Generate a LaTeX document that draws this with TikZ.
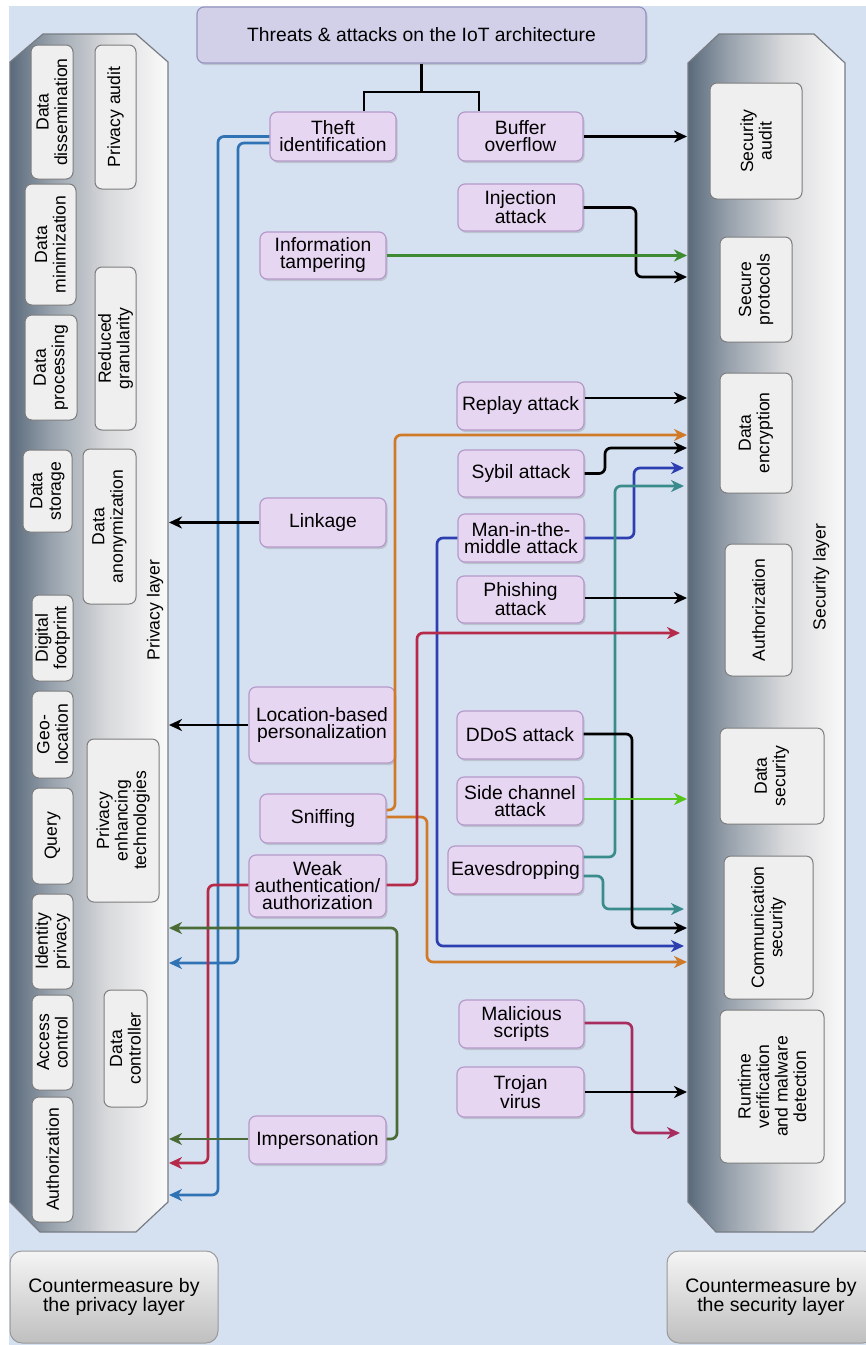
\documentclass[tikz,border=0pt]{standalone}
\usepackage{fontspec}
\setmainfont{Liberation Sans}
\usetikzlibrary{arrows.meta,shadows,calc}

\definecolor{bgblue}{RGB}{213,225,241}
\definecolor{titlefill}{RGB}{210,208,233}
\definecolor{titleborder}{RGB}{150,148,190}
\definecolor{atkfill}{RGB}{231,214,241}
\definecolor{atkborder}{RGB}{181,154,201}
\definecolor{boxgray}{RGB}{239,239,239}
\definecolor{boxborder}{RGB}{125,125,125}
\definecolor{panelborder}{RGB}{120,124,130}
\definecolor{pdark}{RGB}{90,106,123}
\definecolor{pmid}{RGB}{152,162,173}
\definecolor{plight}{RGB}{217,218,220}
\definecolor{pwhite}{RGB}{250,250,250}
\definecolor{ctheft}{RGB}{47,115,181}
\definecolor{corange}{RGB}{208,122,40}
\definecolor{cred}{RGB}{181,42,72}
\definecolor{cblue}{RGB}{45,63,176}
\definecolor{cteal}{RGB}{58,140,140}
\definecolor{cgreen}{RGB}{62,138,48}
\definecolor{cgreen2}{RGB}{82,196,26}
\definecolor{cdgreen}{RGB}{74,107,53}
\definecolor{cmag}{RGB}{168,45,95}

\pgfdeclarehorizontalshading{panelshade}{100bp}{color(0bp)=(pdark); color(25bp)=(pdark); color(38bp)=(pmid); color(56bp)=(plight); color(75bp)=(pwhite); color(100bp)=(pwhite)}

\begin{document}
\begin{tikzpicture}[x=1pt,y=1pt,
  atk/.style={draw=atkborder, fill=atkfill, line width=1.2pt, rounded corners=7pt,
    align=center, inner sep=0pt, font=\fontsize{19.3}{17}\selectfont,
    drop shadow={shadow xshift=1.5pt, shadow yshift=-2pt, opacity=0.3}},
  inbox/.style={draw=boxborder, fill=boxgray, line width=1pt, rounded corners=7pt,
    rotate=90, align=center, inner sep=0pt, font=\fontsize{17.6}{18.5}\selectfont},
  lbl/.style={rotate=90, inner sep=0pt, font=\fontsize{17.6}{18.5}\selectfont},
  cmbox/.style={draw=gray!80, top color=gray!8, bottom color=gray!50, line width=1pt,
    rounded corners=12pt, align=center, inner sep=0pt,
    font=\fontsize{19.5}{17}\selectfont},
  arr/.style={line width=2.7pt, rounded corners=6pt,
    -{Stealth[length=13pt,width=12pt,inset=4pt]}},
  tree/.style={line width=2.7pt}
]
\useasboundingbox (0,0) rectangle (866,-1345);
\fill[white] (0,0) rectangle (866,-1345);
\fill[bgblue] (9,-6) rectangle (866,-1345);

% ---------- layer panels ----------
\path[shade, shading=panelshade, draw=panelborder, line width=1.2pt]
  (43,-34) -- (136,-34) -- (168,-62) -- (168,-1202) -- (136,-1232)
  -- (40,-1232) -- (10,-1202) -- (10,-62) -- cycle;
\path[shade, shading=panelshade, draw=panelborder, line width=1.2pt]
  (719,-34) -- (814,-34) -- (845,-63) -- (845,-1202) -- (813,-1232)
  -- (716,-1232) -- (688,-1202) -- (688,-63) -- cycle;
\coordinate (prvR) at (169,0);
\coordinate (secL) at (687,0);

\node[lbl] (privlabel) at (155,-610) {Privacy layer};
\node[lbl] (seclabel) at (821,-577) {Security layer};

% privacy countermeasures
\node[inbox, minimum width=134, minimum height=42] (dissem) at (52,-112) {Data\\dissemination};
\node[inbox, minimum width=121, minimum height=51] (minim) at (50.5,-244.5) {Data\\minimization};
\node[inbox, minimum width=105, minimum height=52] (proc) at (51,-367.5) {Data\\processing};
\node[inbox, minimum width=82, minimum height=49] (stor) at (47.5,-491) {Data\\storage};
\node[inbox, minimum width=86, minimum height=41] (foot) at (52.5,-638) {Digital\\footprint};
\node[inbox, minimum width=87, minimum height=41] (geo) at (52.5,-734.5) {Geo-\\location};
\node[inbox, minimum width=96, minimum height=41] (query) at (52.5,-836) {Query};
\node[inbox, minimum width=95, minimum height=41] (ident) at (52.5,-941.5) {Identity\\privacy};
\node[inbox, minimum width=95, minimum height=41] (access) at (52.5,-1042.5) {Access\\control};
\node[inbox, minimum width=125, minimum height=41] (pauth) at (52.5,-1159.5) {Authorization};
\node[inbox, minimum width=144, minimum height=41] (paudit) at (115.5,-117) {Privacy audit};
\node[inbox, minimum width=163, minimum height=41] (gran) at (115.5,-348.5) {Reduced\\granularity};
\node[inbox, minimum width=155, minimum height=53] (anon) at (109.5,-526.5) {Data\\anonymization};
\node[inbox, minimum width=163, minimum height=72] (pet) at (123,-820.5) {Privacy\\enhancing\\technologies};
\node[inbox, minimum width=117, minimum height=43] (ctrl) at (125.5,-1048.5) {Data\\controller};

% security countermeasures
\node[inbox, minimum width=116, minimum height=92] (saudit) at (756,-141) {Security\\audit};
\node[inbox, minimum width=105, minimum height=72] (sproto) at (756,-289.5) {Secure\\protocols};
\node[inbox, minimum width=120, minimum height=72] (senc) at (756,-433) {Data\\encryption};
\node[inbox, minimum width=132, minimum height=67] (sauth) at (758.5,-610) {Authorization};
\node[inbox, minimum width=96, minimum height=104] (sdata) at (772,-776) {Data\\security};
\node[inbox, minimum width=143, minimum height=89] (scomm) at (768.5,-927.5) {Communication\\security};
\node[inbox, minimum width=153, minimum height=104] (srun) at (772,-1086.5) {Runtime\\verification\\and malware\\detection};

% ---------- threats ----------
\node[atk, fill=titlefill, draw=titleborder, minimum width=449, minimum height=56] (title) at (421.5,-35) {Threats \& attacks on the IoT architecture};

\node[atk, minimum width=126, minimum height=49] (theft) at (333,-136.5) {Theft\\identification};
\node[atk, minimum width=125, minimum height=49] (buffer) at (520.5,-136.5) {Buffer\\overflow};
\node[atk, minimum width=125, minimum height=47] (inj) at (520.5,-207.5) {Injection\\attack};
\node[atk, minimum width=126, minimum height=47] (tamper) at (323,-255.5) {Information\\tampering};
\node[atk, minimum width=127, minimum height=48] (replay) at (520.5,-406) {Replay attack};
\node[atk, minimum width=126, minimum height=47] (sybil) at (521,-473.5) {Sybil attack};
\node[atk, minimum width=126, minimum height=48] (mitm) at (521,-538) {Man-in-the-\\middle attack};
\node[atk, minimum width=127, minimum height=47] (phish) at (520.5,-599.5) {Phishing\\attack};
\node[atk, minimum width=126, minimum height=49] (linkage) at (323,-522.5) {Linkage};
\node[atk, minimum width=146, minimum height=76] (loc) at (322,-725) {Location-based\\personalization};
\node[atk, minimum width=126, minimum height=49] (sniff) at (323,-818.5) {Sniffing};
\node[atk, minimum width=137, minimum height=62] (weak) at (317.5,-886) {Weak\\authentication/\\authorization};
\node[atk, minimum width=137, minimum height=48] (imp) at (317.5,-1140) {Impersonation};
\node[atk, minimum width=126, minimum height=48] (ddos) at (520,-735) {DDoS attack};
\node[atk, minimum width=126, minimum height=48] (side) at (520,-801) {Side channel\\attack};
\node[atk, minimum width=135, minimum height=48] (eaves) at (515.5,-870) {Eavesdropping};
\node[atk, minimum width=125, minimum height=48] (mal) at (521.5,-1024) {Malicious\\scripts};
\node[atk, minimum width=127, minimum height=50] (trojan) at (520.5,-1092) {Trojan\\virus};

% ---------- countermeasure captions ----------
\node[cmbox, minimum width=208, minimum height=92] (cmpriv) at (114,-1297) {Countermeasure by\\the privacy layer};
\node[cmbox, minimum width=208, minimum height=92] (cmsec) at (771,-1297) {Countermeasure by\\the security layer};

% ---------- tree from the title ----------
\coordinate (split) at (421.5,-92);
\draw[tree] (title.south) -- (split);
\draw[tree] ([xshift=31pt]theft.north) |- (split) -| ([xshift=-41.5pt]buffer.north);

% ---------- connectors to the privacy layer ----------
\draw[arr, ctheft] (theft.west) -| (218,-1195) -- (prvR |- 0,-1195);
\draw[arr, ctheft] ([yshift=-6.5pt]theft.west) -| (238,-963) -- (prvR |- 0,-963);
\draw[arr] (linkage.west) -- (prvR |- linkage.west);
\draw[arr] (loc.west) -- (prvR |- loc.west);
\draw[arr, cred] ([yshift=1pt]weak.west) -| (208,-1163) -- (prvR |- 0,-1163);
\draw[arr, cdgreen] ([yshift=1pt]imp.west) -- (prvR |- 0,-1139);
\draw[arr, cdgreen] ([yshift=1pt]imp.east) -| (397,-928) -- (prvR |- 0,-928);

% ---------- connectors to the security layer ----------
\draw[arr] (buffer.east) -- (secL |- buffer.east);
\draw[arr] (inj.east) -| (636,-277) -- (secL |- 0,-277);
\draw[arr, cgreen] (tamper.east) -- (secL |- tamper.east);
\draw[arr] ([yshift=8pt]replay.east) -- (secL |- 0,-398);
\draw[arr, corange] ([yshift=8.5pt]sniff.east) -| (395,-435) -- (secL |- 0,-435);
\draw[arr, corange] ([yshift=1.5pt]sniff.east) -| (427,-962) -- (secL |- 0,-962);
\draw[arr] (sybil.east) -| (605,-448) -- (secL |- 0,-448);
\draw[arr, cblue, shorten >=3pt] (mitm.east) -| (634,-468) -- (secL |- 0,-468);
\draw[arr, cblue, shorten >=3pt] (mitm.west) -| (437,-946) -- (secL |- 0,-946);
\draw[arr, cteal, shorten >=3pt] ([yshift=13pt]eaves.east) -| (615,-486) -- (secL |- 0,-486);
\draw[arr, cteal, shorten >=3pt] ([yshift=-6pt]eaves.east) -| (603,-909) -- (secL |- 0,-909);
\draw[arr] ([yshift=1.5pt]phish.east) -- (secL |- 0,-598);
\draw[arr, cred, shorten >=7pt] ([yshift=1pt]weak.east) -| (417,-633) -- (secL |- 0,-633);
\draw[arr] ([yshift=1pt]ddos.east) -| (632,-928) -- (secL |- 0,-928);
\draw[arr, cgreen2] ([yshift=2pt]side.east) -- (secL |- 0,-799);
\draw[arr, cmag, shorten >=7pt] ([yshift=1pt]mal.east) -| (632,-1133) -- (secL |- 0,-1133);
\draw[arr] (trojan.east) -- (secL |- trojan.east);
\end{tikzpicture}
\end{document}
